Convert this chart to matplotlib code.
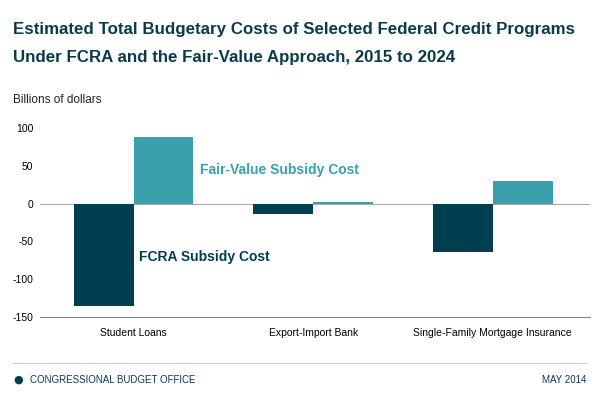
# Estimated budgetary costs of selected federal credit programs, FCRA vs fair value
# Values (billions of dollars)

import numpy as np
import matplotlib.pyplot as plt

programs = ['Student Loans', 'Export-Import Bank', 'Single-Family Mortgage Insurance']
fcra_cost = [-135, -14, -64]
fair_value_cost = [88, 2, 30]
y_ticks = [100, 50, 0, -50, -100, -150]

dark = '#003f4f'
light = '#3aa0ab'
narrow = ['Liberation Sans', 'DejaVu Sans']

fig = plt.figure(figsize=(6, 4), dpi=100)
fig.patch.set_facecolor('white')

fig.text(0.022, 0.945, 'Estimated Total Budgetary Costs of Selected Federal Credit Programs',
         fontsize=12.2, fontweight='bold', color='#0b3b4a', va='top', family=narrow)
fig.text(0.022, 0.875, 'Under FCRA and the Fair-Value Approach, 2015 to 2024',
         fontsize=12.2, fontweight='bold', color='#0b3b4a', va='top', family=narrow)
fig.text(0.022, 0.75, 'Billions of dollars', fontsize=8.5, color='#222222', va='center', family=narrow)

ax = fig.add_axes([0.067, 0.2075, 0.916, 0.4725])
x = np.arange(len(programs))
w = 0.333
ax.bar(x - w / 2, fcra_cost, w, color=dark)  # FCRA
ax.bar(x + w / 2, fair_value_cost, w, color=light)  # fair value
ax.axhline(0, color='#aaaaaa', lw=0.8, zorder=0)

ax.set_xlim(-0.52, 2.54)
ax.set_ylim(-150, 100)
ax.set_yticks(y_ticks)
ax.set_yticklabels([str(t) for t in y_ticks], fontsize=7.5, family=narrow)
ax.set_xticks(x)
ax.set_xticklabels(programs, fontsize=7.5, family=narrow)
ax.tick_params(length=0, pad=8)
ax.tick_params(axis='y', pad=5)
for s in ['top', 'right', 'left']:
    ax.spines[s].set_visible(False)
ax.spines['bottom'].set_color('#888888')
ax.spines['bottom'].set_linewidth(0.8)

ax.text(0.37, 44, 'Fair-Value Subsidy Cost', color=light, fontsize=10, fontweight='bold',
        va='center', family=narrow)
ax.text(0.03, -70, 'FCRA Subsidy Cost', color=dark, fontsize=10, fontweight='bold',
        va='center', family=narrow)

fig.add_artist(plt.Line2D([0.022, 0.978], [0.092, 0.092], color='#cccccc', lw=0.8))
fig.text(0.022, 0.05, '\u25cf', fontsize=8, color=dark, va='center')
fig.text(0.05, 0.05, 'CONGRESSIONAL BUDGET OFFICE', fontsize=7, color='#0b3b4a', va='center', family=narrow)
fig.text(0.978, 0.05, 'MAY 2014', fontsize=7, color='#0b3b4a', va='center', ha='right', family=narrow)

fig.savefig('out.png', dpi=100)
